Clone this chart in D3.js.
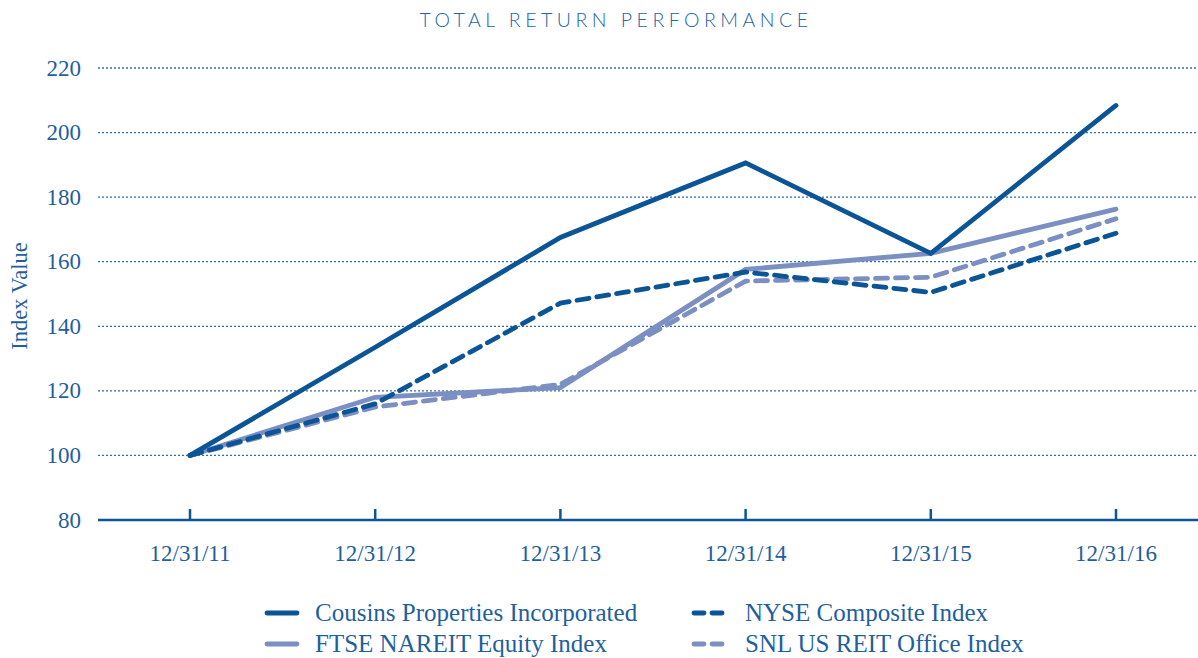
<!DOCTYPE html>
<html><head><meta charset="utf-8">
<script src="https://cdn.jsdelivr.net/npm/d3@7"></script>
<style>body{margin:0;background:#fff}svg{display:block}</style>
</head><body><svg id="c" width="1198" height="658"></svg>
<script>
const categories = ["12/31/11","12/31/12","12/31/13","12/31/14","12/31/15","12/31/16"];
const cousins = [100, 133.5, 167.5, 190.6, 162.6, 208.4];
const nyse    = [100, 116, 147.2, 156.8, 150.5, 168.8];
const ftse    = [100, 118, 121, 157.6, 162.6, 176.3];
const snl     = [100, 115, 122, 154, 155.2, 173.3];
const yTicks  = [80,100,120,140,160,180,200,220];
const seriesNames = ["Cousins Properties Incorporated","NYSE Composite Index","FTSE NAREIT Equity Index","SNL US REIT Office Index"];

const dark = "#0b5596", light = "#7c8fc3";
const series = [
  {name: seriesNames[0], values: cousins, color: dark, dash: null},
  {name: seriesNames[1], values: nyse, color: dark, dash: "12,8"},
  {name: seriesNames[2], values: ftse, color: light, dash: null},
  {name: seriesNames[3], values: snl, color: light, dash: "12,8"}
];

const svg = d3.select("#c");
const serif = "'Liberation Serif','Times New Roman',serif";
const x = d3.scalePoint().domain(categories).range([190,1116]);
const y = d3.scaleLinear().domain([80,220]).range([520,68]);

svg.append("text").attr("x",616).attr("y",27).attr("text-anchor","middle")
  .attr("font-family","Lato, 'Open Sans', sans-serif").attr("font-size",19.5).attr("font-weight",300)
  .attr("letter-spacing","4.5px").attr("fill","#2266a6").text("TOTAL RETURN PERFORMANCE");

// grid
svg.append("g").selectAll("line").data(yTicks.filter(d=>d>80)).join("line")
  .attr("x1",98).attr("x2",1198).attr("y1",d=>y(d)).attr("y2",d=>y(d))
  .attr("stroke","#2f6fa8").attr("stroke-width",1.3).attr("stroke-dasharray","2,2");

// y tick labels
svg.append("g").selectAll("text").data(yTicks).join("text")
  .attr("x",81).attr("y",d=>y(d)).attr("dy","0.33em").attr("text-anchor","end")
  .attr("font-family",serif).attr("font-size",23).attr("fill","#1f5f9c").text(d=>d);

svg.append("text").attr("transform","translate(27,296) rotate(-90)").attr("text-anchor","middle")
  .attr("font-family",serif).attr("font-size",22.5).attr("fill","#1f5f9c").text("Index Value");

// x axis
svg.append("line").attr("x1",98).attr("x2",1198).attr("y1",520).attr("y2",520)
  .attr("stroke","#0b5596").attr("stroke-width",2.5);
svg.append("g").selectAll("line").data(categories).join("line")
  .attr("x1",d=>x(d)).attr("x2",d=>x(d)).attr("y1",509).attr("y2",520)
  .attr("stroke","#0b5596").attr("stroke-width",2.5);
svg.append("g").selectAll("text").data(categories).join("text")
  .attr("x",d=>x(d)).attr("y",561).attr("text-anchor","middle")
  .attr("font-family",serif).attr("font-size",23).attr("fill","#1f5f9c").text(d=>d);

// lines (draw light first, then dark)
const line = d3.line().x((d,i)=>x(categories[i])).y(d=>y(d));
const order = [3,2,1,0];
svg.append("g").selectAll("path").data(order.map(i=>series[i])).join("path")
  .attr("d",d=>line(d.values)).attr("fill","none").attr("stroke",d=>d.color)
  .attr("stroke-width",4.8).attr("stroke-linecap","round").attr("stroke-linejoin","miter")
  .attr("stroke-dasharray",d=>d.dash);

// legend
const legPos = [[265,613],[692,613],[265,644],[692,644]];
const lg = svg.append("g").selectAll("g").data(series).join("g")
  .attr("transform",(d,i)=>`translate(${legPos[i][0]},${legPos[i][1]})`);
lg.append("line").attr("x1",2).attr("x2",32).attr("y1",0).attr("y2",0)
  .attr("stroke",d=>d.color).attr("stroke-width",4.8).attr("stroke-linecap","round")
  .attr("stroke-dasharray",d=>d.dash? "10,8":null);
lg.append("text").attr("x",d=>d.dash?53:50).attr("y",0).attr("dy","0.33em")
  .attr("font-family",serif).attr("font-size",25).attr("fill","#1f5f9c").text(d=>d.name);
</script></body></html>
